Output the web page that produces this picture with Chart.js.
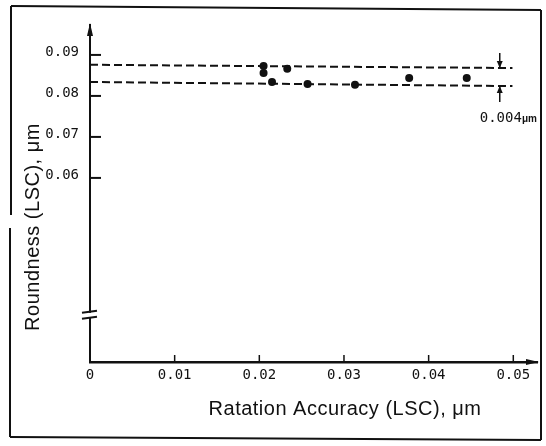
<!DOCTYPE html>
<html>
<head>
<meta charset="utf-8">
<script src="https://cdn.jsdelivr.net/npm/chart.js@4.4.1/dist/chart.umd.min.js"></script>
<style>
  html, body { margin: 0; padding: 0; background: #fff; }
</style>
</head>
<body>
<canvas id="roundnessChart" width="546" height="446"></canvas>
<script>
const accuracy  = [0.0205, 0.0205, 0.0215, 0.0233, 0.0257, 0.0313, 0.0377, 0.0445];
const roundness = [0.0873, 0.0856, 0.0834, 0.0866, 0.0829, 0.0827, 0.0844, 0.0844];

// the two dashed bounding lines
const boundX     = [0, 0.0499];
const upperBound = [0.0876, 0.0868];
const lowerBound = [0.0834, 0.0824];

const xTicks = [0, 0.01, 0.02, 0.03, 0.04, 0.05];
const xTickLabels = ['0', '0.01', '0.02', '0.03', '0.04', '0.05'];
const yTicks = [0.06, 0.07, 0.08, 0.09];
const yTickLabels = ['0.06', '0.07', '0.08', '0.09'];

const xTitle = 'Ratation Accuracy (LSC), \u03bcm';
const yTitle = 'Roundness (LSC), \u03bcm';
const bandLabel = '0.004';
const bandUnit = '\u03bcm';
const bandAt = 0.0484;
const axisBreakAt = 0.0266;

const ink = '#111';
const mono = '"DejaVu Sans Mono", monospace';
const sans = '"Liberation Sans", Arial, sans-serif';

function line(ctx, x1, y1, x2, y2) {
    ctx.beginPath();
    ctx.moveTo(x1, y1);
    ctx.lineTo(x2, y2);
    ctx.stroke();
}

function arrowHead(ctx, tipX, tipY, dx, dy, len, half) {
    // dx,dy = unit direction the arrow points to
    const bx = tipX - dx * len, by = tipY - dy * len;
    ctx.beginPath();
    ctx.moveTo(tipX, tipY);
    ctx.lineTo(bx - dy * half, by + dx * half);
    ctx.lineTo(bx + dy * half, by - dx * half);
    ctx.closePath();
    ctx.fill();
}

const decorations = {
    id: 'decorations',
    afterDraw(chart) {
        const ctx = chart.ctx;
        const xs = chart.scales.x;
        const ys = chart.scales.y;
        const area = chart.chartArea;
        const axisX = area.left;
        const axisY = area.bottom;

        ctx.save();
        ctx.strokeStyle = ink;
        ctx.fillStyle = ink;

        // tick marks pointing inwards
        ctx.lineWidth = 2;
        yTicks.forEach(v => {
            const p = ys.getPixelForValue(v);
            line(ctx, axisX, p, axisX + 11, p);
        });
        ctx.lineWidth = 1.5;
        xTicks.slice(1).forEach(v => {
            const p = xs.getPixelForValue(v);
            line(ctx, p, axisY, p, axisY - 7);
        });

        // axis arrows
        arrowHead(ctx, axisX, area.top - 2, 0, -1, 13, 3);
        arrowHead(ctx, area.right + 2, axisY, 1, 0, 13, 3);

        // axis break
        const b = ys.getPixelForValue(axisBreakAt);
        ctx.fillStyle = '#fff';
        ctx.fillRect(axisX - 3, b - 2, 6, 5);
        ctx.fillStyle = ink;
        ctx.lineWidth = 2;
        line(ctx, axisX - 8, b - 2, axisX + 7, b - 4);
        line(ctx, axisX - 8, b + 4, axisX + 7, b + 2);

        // 0.004 band marker
        const ax = xs.getPixelForValue(bandAt);
        const yu = ys.getPixelForValue(upperBound[1]);
        const yl = ys.getPixelForValue(lowerBound[1]);
        ctx.lineWidth = 1.5;
        line(ctx, ax, yu - 15, ax, yu);
        arrowHead(ctx, ax, yu, 0, 1, 7, 3);
        line(ctx, ax, yl, ax, yl + 16);
        arrowHead(ctx, ax, yl, 0, -1, 7, 3);
        ctx.textBaseline = 'middle';
        ctx.textAlign = 'left';
        ctx.font = '14px ' + mono;
        ctx.fillText(bandLabel, ax - 20, yl + 32);
        const w = ctx.measureText(bandLabel).width;
        ctx.font = 'bold 10px ' + sans;
        ctx.fillText(bandUnit, ax - 20 + w, yl + 33);

        // axis titles
        ctx.font = '20px ' + sans;
        ctx.textAlign = 'center';
        ctx.letterSpacing = '0.5px';
        ctx.fillText(xTitle, 345, 409);
        ctx.save();
        ctx.translate(33, 227);
        ctx.rotate(-Math.PI / 2);
        ctx.fillText(yTitle, 0, 0);
        ctx.restore();
        ctx.letterSpacing = '0px';

        // frame round the figure
        ctx.lineWidth = 2;
        line(ctx, 11, 6, 541, 10);
        line(ctx, 11, 6, 11, 215);
        line(ctx, 10, 228, 10, 437);
        line(ctx, 541, 10, 541, 440);
        line(ctx, 10, 437, 541, 440);

        ctx.restore();
    }
};

const points = accuracy.map((x, i) => ({ x: x, y: roundness[i] }));
const upperLine = boundX.map((x, i) => ({ x: x, y: upperBound[i] }));
const lowerLine = boundX.map((x, i) => ({ x: x, y: lowerBound[i] }));

const dashedStyle = {
    type: 'line',
    borderColor: ink,
    borderWidth: 2,
    borderDash: [8, 4],
    pointRadius: 0,
    fill: false,
    tension: 0
};

new Chart(document.getElementById('roundnessChart').getContext('2d'), {
    type: 'scatter',
    data: {
        datasets: [
            Object.assign({ data: upperLine }, dashedStyle),
            Object.assign({ data: lowerLine }, dashedStyle),
            {
                data: points,
                backgroundColor: ink,
                borderColor: ink,
                borderWidth: 0,
                pointRadius: 4
            }
        ]
    },
    options: {
        responsive: false,
        animation: false,
        layout: {
            autoPadding: false,
            padding: { left: 0, right: 9, top: 25, bottom: 0 }
        },
        plugins: {
            legend: { display: false },
            tooltip: { enabled: false }
        },
        scales: {
            x: {
                type: 'linear',
                min: 0,
                max: 0.0528,
                afterFit: scale => { scale.height = 84; },
                afterBuildTicks: scale => { scale.ticks = xTicks.map(v => ({ value: v })); },
                grid: { display: false, drawTicks: false },
                border: { display: true, color: ink, width: 2.5 },
                ticks: {
                    padding: 5,
                    color: ink,
                    font: { family: mono, size: 14 },
                    maxRotation: 0,
                    callback: (value) => xTickLabels[xTicks.indexOf(value)]
                }
            },
            y: {
                type: 'linear',
                min: 0.0151,
                max: 0.0973,
                afterFit: scale => { scale.width = 90; },
                afterBuildTicks: scale => { scale.ticks = yTicks.map(v => ({ value: v })); },
                grid: { display: false, drawTicks: false },
                border: { display: true, color: ink, width: 2 },
                ticks: {
                    padding: 11,
                    labelOffset: -3,
                    color: ink,
                    font: { family: mono, size: 14 },
                    callback: (value) => yTickLabels[yTicks.indexOf(value)]
                }
            }
        }
    },
    plugins: [decorations]
});
</script>
</body>
</html>
